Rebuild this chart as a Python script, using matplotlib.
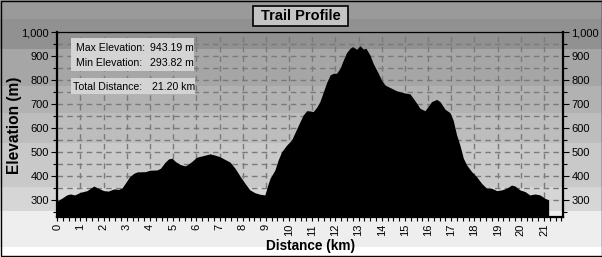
import matplotlib.pyplot as plt
from matplotlib.patches import Rectangle
from matplotlib.ticker import MultipleLocator, FuncFormatter

plt.rcParams['font.family'] = ['Liberation Sans', 'DejaVu Sans']

# profile: distance (km) and elevation (m)
dist = [0, 0.19, 0.41, 0.56, 0.75, 1.0, 1.29, 1.43, 1.58, 1.72, 2.0, 2.2, 2.44, 2.65,
        2.8, 2.95, 3.12, 3.3, 3.45, 3.8, 4.0, 4.3, 4.45, 4.65, 4.8, 4.95, 5.1, 5.3,
        5.5, 5.6, 5.8, 6.01, 6.3, 6.59, 6.8, 7.02, 7.23, 7.45, 7.67, 7.88, 8.1, 8.31,
        8.53, 8.74, 8.96, 9.06, 9.18, 9.39, 9.53, 9.68, 9.9, 10.11, 10.3, 10.47,
        10.61, 10.76, 10.9, 11.04, 11.19, 11.33, 11.48, 11.62, 11.77, 11.91, 12.05,
        12.2, 12.34, 12.48, 12.63, 12.74, 12.92, 13.06, 13.2, 13.32, 13.49, 13.63,
        13.85, 13.99, 14.14, 14.35, 14.64, 14.93, 15.22, 15.43, 15.65, 15.86, 16.0,
        16.15, 16.37, 16.51, 16.73, 16.94, 17.08, 17.23, 17.37, 17.52, 17.66, 17.88,
        18.09, 18.31, 18.52, 18.74, 18.96, 19.17, 19.39, 19.6, 19.75, 19.96, 20.18,
        20.39, 20.61, 20.83, 21.04, 21.2]
elev = [296, 307, 321, 325, 321, 332, 339, 349, 358, 351, 339, 337, 346, 344,
        351, 372, 397, 411, 417, 418, 424, 425, 432, 457, 471, 474, 460, 448,
        442, 446, 460, 478, 485, 492, 487, 480, 469, 458, 432, 400, 369, 342,
        330, 324, 321, 356, 390, 425, 467, 501, 529, 550, 590, 626,
        654, 672, 671, 668, 686, 710, 751, 789, 821, 828, 828,
        849, 883, 914, 932, 939, 928, 943, 929, 932, 904, 869,
        828, 800, 779, 769, 755, 747, 742, 714, 682, 672, 689,
        710, 719, 710, 678, 664, 633, 571, 529, 474, 446, 418,
        397, 369, 349, 349, 339, 342, 349, 362, 358, 342, 335,
        321, 325, 321, 307, 300]

title = "Trail Profile"
stats_labels = ["Max Elevation:", "Min Elevation:"]
stats_values = ["943.19 m", "293.82 m"]
total_label = "Total Distance:"
total_value = "21.20 km"

W, H = 602, 257
fig = plt.figure(figsize=(W / 100, H / 100), dpi=100)

# background bands (pixel rows from top)
bg = fig.add_axes([0, 0, 1, 1], zorder=-1)
bg.set_xlim(0, W)
bg.set_ylim(H, 0)
bg.axis('off')
bands = [(0, 19, '#9a9a9a'), (19, 49, '#919191'), (49, 86, '#a6a6a6'),
         (86, 113, '#b2b2b2'), (113, 143, '#bdbdbd'), (143, 187, '#c9c9c9'),
         (187, 211, '#d6d6d6'), (211, 247, '#eeeeee'), (247, 257, '#ffffff')]
for y0, y1, c in bands:
    bg.add_patch(Rectangle((0, y0), W, y1 - y0, facecolor=c, edgecolor='none'))

# main plot area
left, right, top, bottom = 57.3, 563, 32, 217
ax = fig.add_axes([left / W, (H - bottom) / H, (right - left) / W, (bottom - top) / H])
ax.patch.set_alpha(0)
ax.set_xlim(0, 21.82)
ax.set_ylim(229, 1000)

for v in range(300, 1001, 50):
    ax.axhline(v, color='#7a7a7a', lw=1, ls=(0, (4, 3)), zorder=1)
for v in range(1, 22):
    ax.axvline(v, color='#7a7a7a', lw=1, ls=(0, (4, 3)), zorder=1)

ax.fill_between(dist, elev, 229, color='black', lw=0, zorder=2)

ax.xaxis.set_major_locator(MultipleLocator(1))
ax.xaxis.set_minor_locator(MultipleLocator(0.25))
ax.yaxis.set_major_locator(MultipleLocator(100))
ax.yaxis.set_minor_locator(MultipleLocator(50))
ax.yaxis.set_major_formatter(FuncFormatter(lambda v, p: f'{v:,.0f}'))
ax.tick_params(axis='y', which='both', left=True, right=True, labelleft=True,
               labelright=True, direction='out', labelsize=8, pad=2, width=0.8)
ax.tick_params(axis='y', which='major', length=4)
ax.tick_params(axis='y', which='minor', length=3)
ax.tick_params(axis='x', which='both', direction='out', length=3, width=0.8,
               labelsize=8, labelrotation=90, pad=2)
for lab in ax.get_xticklabels():
    lab.set_va('top')

for s in ['left', 'right', 'bottom']:
    ax.spines[s].set_linewidth(1.6)
ax.spines['top'].set_linewidth(0.9)
for s in ax.spines.values():
    s.set_zorder(4)

# overlay: title box, info boxes, axis titles, frame
ov = fig.add_axes([0, 0, 1, 1], zorder=5)
ov.set_xlim(0, W)
ov.set_ylim(H, 0)
ov.axis('off')
ov.patch.set_alpha(0)

ov.add_patch(Rectangle((253, 6), 95, 20, facecolor='#c4c4c4', edgecolor='black', lw=1.2))
ov.text(301, 16.5, title, ha='center', va='center', fontsize=10.5, fontweight='bold')

ov.add_patch(Rectangle((71, 38), 123, 33, facecolor='#d4d4d4', edgecolor='none'))
ov.add_patch(Rectangle((71, 78), 124, 16, facecolor='#d4d4d4', edgecolor='none'))
for i, (lab, val) in enumerate(zip(stats_labels, stats_values)):
    yy = 47.7 + i * 15.6
    ov.text(76, yy, lab, ha='left', va='center', fontsize=7.6)
    ov.text(149.5, yy, val, ha='left', va='center', fontsize=7.6)
ov.text(73, 87, total_label, ha='left', va='center', fontsize=7.6)
ov.text(152.5, 87, total_value, ha='left', va='center', fontsize=7.6)

ov.text(15, 125.5, "Elevation (m)", rotation=90, ha='center', va='center',
        fontsize=11.2, fontweight='bold')
ov.text(310, 246, "Distance (km)", ha='center', va='center',
        fontsize=9.8, fontweight='bold')

ov.add_patch(Rectangle((0.5, 0.5), W - 1, H - 1.5, facecolor='none', edgecolor='black', lw=1))

fig.savefig('out.png', dpi=100)
